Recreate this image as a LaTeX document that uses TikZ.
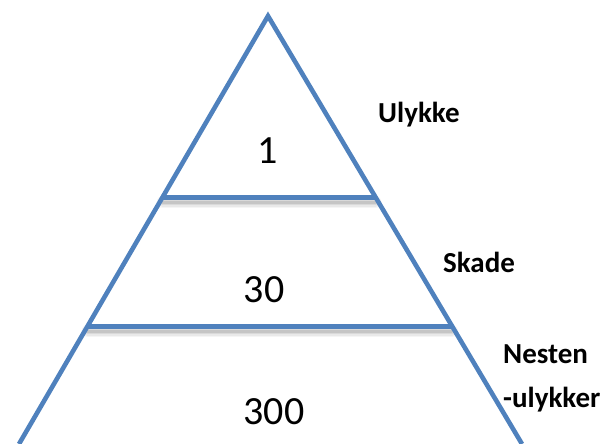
\documentclass[tikz,border=0pt]{standalone}
\usepackage{fontspec}
\setmainfont{Carlito}
\usetikzlibrary{calc}
\definecolor{pyrblue}{HTML}{4F81BD}
\begin{document}
\begin{tikzpicture}[x=1pt,y=-1pt,
  side/.style={draw=pyrblue,line width=4.6pt,line join=miter},
  level/.style={draw=pyrblue,line width=5pt},
  levelshade/.style={draw=black,line cap=round},
  count/.style={font=\fontsize{40}{40}\selectfont,inner sep=0pt,anchor=base},
  tag/.style={font=\fontsize{29}{32}\selectfont\bfseries,inner sep=0pt,anchor=base west}]
\useasboundingbox (0,0) rectangle (614,444);

% corners of the pyramid
\coordinate (top) at (268,16);
\coordinate (bl) at (19,444);
\coordinate (br) at (522,444);

% ends of the two dividing lines, on the sides
\coordinate (a1) at ($(top)!0.4229!(bl)$);
\coordinate (b1) at ($(top)!0.4229!(br)$);
\coordinate (a2) at ($(top)!0.7243!(bl)$);
\coordinate (b2) at ($(top)!0.7243!(br)$);

% soft shadows under the dividing lines
\foreach \w/\o in {12/0.04,9/0.05,6/0.07,3/0.09}{
  \draw[levelshade,line width=\w pt,opacity=\o] ([yshift=-5pt]a1) -- ([yshift=-5pt]b1);
  \draw[levelshade,line width=\w pt,opacity=\o] ([yshift=-5pt]a2) -- ([yshift=-5pt]b2);
}

% sides
\draw[side] (bl) -- (top) -- (br);

% dividing lines
\draw[level] (a1) -- (b1);
\draw[level] (a2) -- (b2);

% counts
\node[count] (n1) at (268,164) {1};
\node[count] (n30) at (264,302) {30};
\node[count] (n300) at (274,424) {300};

% level names
\node[tag] (t1) at (378,123) {Ulykke};
\node[tag] (t2) at (443,272) {Skade};
\node[tag] (t3) at (503,363) {Nesten};
\node[tag] (t4) at (503,407) {-ulykker};
\end{tikzpicture}
\end{document}
